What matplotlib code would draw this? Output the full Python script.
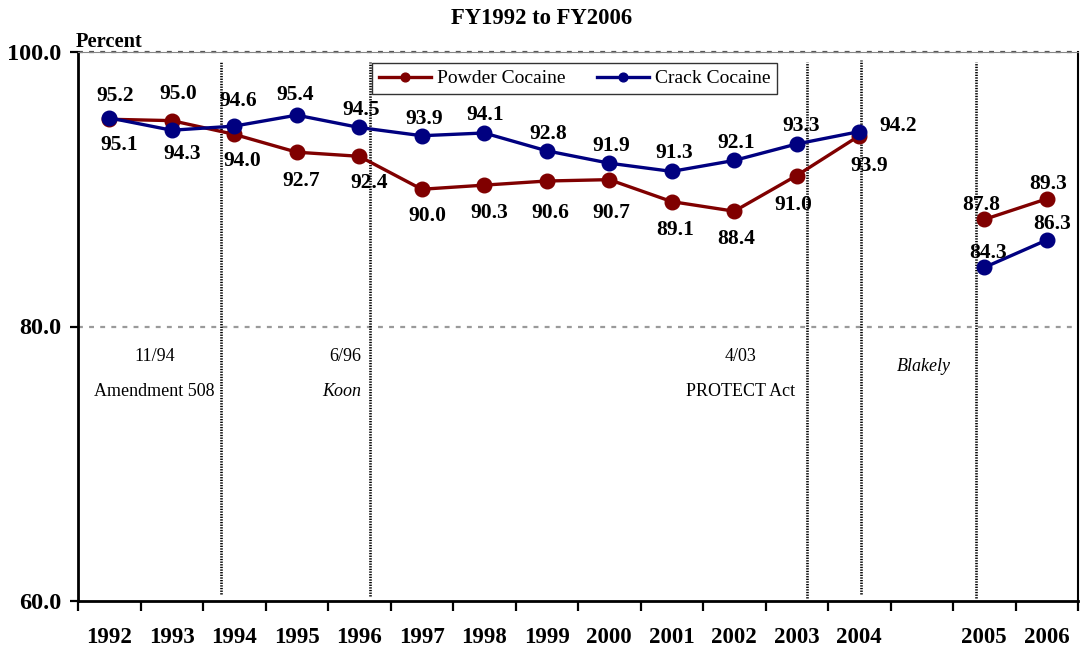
import numpy as np
import matplotlib
matplotlib.use("Agg")
import matplotlib.pyplot as plt

plt.rcParams['font.family'] = ['Liberation Serif', 'DejaVu Serif']

# ---- data ----
years = ["1992", "1993", "1994", "1995", "1996", "1997", "1998", "1999",
         "2000", "2001", "2002", "2003", "2004", "", "2005", "2006"]
powder = [95.1, 95.0, 94.0, 92.7, 92.4, 90.0, 90.3, 90.6, 90.7, 89.1,
          88.4, 91.0, 93.9, np.nan, 87.8, 89.3]
crack = [95.2, 94.3, 94.6, 95.4, 94.5, 93.9, 94.1, 92.8, 91.9, 91.3,
         92.1, 93.3, 94.2, np.nan, 84.3, 86.3]

# label offsets in pixels (dx, dy with dy measured downward)
powder_off = [(10, 26), (6, -27), (8, 27), (4, 29), (10, 27), (6, 27),
              (5, 28), (4, 32), (2, 33), (3, 28), (2, 28), (-3, 29),
              (10, 30), None, (-3, -14), (1, -15)]
crack_off = [(6, -22), (10, 24), (4, -25), (-2, -20), (2, -17), (2, -17),
             (1, -18), (2, -17), (2, -17), (2, -18), (2, -17), (4, -18),
             (39, -6), None, (4, -14), (5, -16)]

# policy events: position on category axis, vertical extent
event_x = [1.78, 4.17, 11.17, 12.03, 13.86]
event_ylo = [60.5, 60.4, 60.2, 60.5, 60.2]
event_yhi = [99.3, 99.3, 99.3, 99.4, 99.3]

RED = "#800000"
BLUE = "#000080"

fig = plt.figure(figsize=(10.82, 6.47), dpi=100)
ax = fig.add_axes([78 / 1082, 1 - 601 / 647, 1000 / 1082, 549 / 647])

x = np.arange(len(years))
ax.set_xlim(-0.5, len(years) - 0.5)
ax.set_ylim(60, 100)

# gridlines
ax.axhline(80, color="#9a9a9a", lw=1.6, ls=(0, (2.2, 2.8)), zorder=1)
ax.axhline(100, color="#555555", lw=1.6, ls=(0, (2.2, 2.8)), zorder=1,
           clip_on=False)

# policy event lines
for ex, lo, hi in zip(event_x, event_ylo, event_yhi):
    ax.plot([ex, ex], [lo, hi], color="black", lw=1.9, ls=(0, (0.5, 0.5)),
            zorder=2)

ax.plot(x, powder, color=RED, lw=2.4, marker="o", ms=10.5,
        label="Powder Cocaine", zorder=3)
ax.plot(x, crack, color=BLUE, lw=2.4, marker="o", ms=10.5,
        label="Crack Cocaine", zorder=4)

for xi, v, off in zip(x, powder, powder_off):
    if off is None or np.isnan(v):
        continue
    ax.annotate(f"{v:.1f}", (xi, v), xytext=(off[0], -off[1]),
                textcoords="offset pixels", ha="center", va="center",
                fontsize=15.5, fontweight="bold", zorder=5)
for xi, v, off in zip(x, crack, crack_off):
    if off is None or np.isnan(v):
        continue
    ax.annotate(f"{v:.1f}", (xi, v), xytext=(off[0], -off[1]),
                textcoords="offset pixels", ha="center", va="center",
                fontsize=15.5, fontweight="bold", zorder=5)

# event annotations
ev_fs = 13
ax.text(0.72, 77.8, "11/94", ha="center", va="center", fontsize=ev_fs)
ax.text(0.72, 75.3, "Amendment 508", ha="center", va="center", fontsize=ev_fs)
ax.text(4.03, 77.8, "6/96", ha="right", va="center", fontsize=ev_fs)
ax.text(4.03, 75.3, "Koon", ha="right", va="center", fontsize=ev_fs,
        style="italic")
ax.text(10.1, 77.8, "4/03", ha="center", va="center", fontsize=ev_fs)
ax.text(10.1, 75.3, "PROTECT Act", ha="center", va="center", fontsize=ev_fs)
ax.text(13.04, 77.05, "Blakely", ha="center", va="center", fontsize=ev_fs,
        style="italic")

# axes styling
ax.spines["top"].set_color("#888888")
ax.spines["top"].set_linewidth(0.8)
ax.spines["left"].set_linewidth(2.0)
ax.spines["bottom"].set_linewidth(2.0)
ax.spines["right"].set_linewidth(1.5)

ax.set_yticks([60, 80, 100])
ax.set_yticklabels(["60.0", "80.0", "100.0"], fontsize=17.5, fontweight="bold")
ax.tick_params(axis="y", direction="out", length=6, width=1.6, pad=6)

ax.set_xticks(np.arange(-0.5, len(years), 1.0))
ax.set_xticklabels([])
ax.tick_params(axis="x", which="major", direction="out", length=7, width=1.6)
ax.set_xticks(x, minor=True)
ax.set_xticklabels(years, minor=True, fontsize=16.5, fontweight="bold")
ax.tick_params(axis="x", which="minor", length=0, pad=19)

leg = ax.legend(loc="upper left", bbox_to_anchor=(372 / 1082, 1 - 63 / 647),
                bbox_transform=fig.transFigure, ncol=2, fontsize=14,
                frameon=True, fancybox=False, handlelength=2.7,
                columnspacing=1.6, handletextpad=0.3, borderpad=0.35,
                markerscale=0.6, borderaxespad=0)
leg.get_frame().set_edgecolor("black")
leg.get_frame().set_linewidth(1.0)

fig.text(542 / 1082, 1 - 19 / 647, "FY1992 to FY2006", ha="center",
         va="center", fontsize=16.3, fontweight="bold")
fig.text(76 / 1082, 1 - 42 / 647, "Percent", ha="left", va="center",
         fontsize=14.7, fontweight="bold")

fig.savefig("out.png", dpi=100)
